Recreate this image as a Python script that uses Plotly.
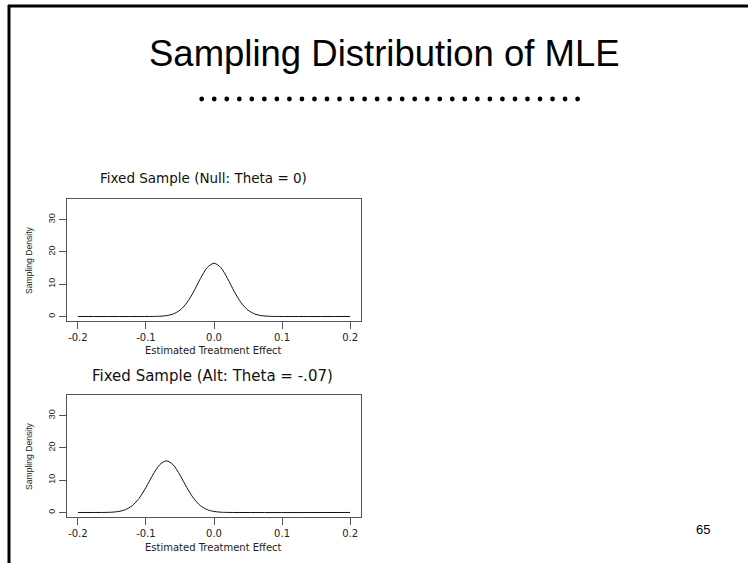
import plotly.graph_objects as go

W, H = 748, 563

# ---- data ----
null_x = [-0.20, -0.09, -0.08, -0.07, -0.06, -0.05, -0.04, -0.03, -0.02, -0.01, 0.00,
          0.01, 0.02, 0.03, 0.04, 0.05, 0.06, 0.07, 0.08, 0.09, 0.20]
null_y = [0.0, 0.01, 0.07, 0.25, 0.76, 1.95, 4.21, 7.65, 11.73, 15.15, 16.5,
          15.15, 11.73, 7.65, 4.21, 1.95, 0.76, 0.25, 0.07, 0.01, 0.0]

alt_x = [-0.20, -0.16, -0.15, -0.14, -0.13, -0.12, -0.11, -0.10, -0.09, -0.08, -0.07,
         -0.06, -0.05, -0.04, -0.03, -0.02, -0.01, 0.00, 0.01, 0.02, 0.20]
alt_y = [0.0, 0.02, 0.09, 0.31, 0.88, 2.13, 4.40, 7.74, 11.59, 14.76, 16.0,
         14.76, 11.59, 7.74, 4.40, 2.13, 0.88, 0.31, 0.09, 0.02, 0.0]

x_ticks = [-0.2, -0.1, 0.0, 0.1, 0.2]
x_tick_labels = ["-0.2", "-0.1", "0.0", "0.1", "0.2"]
y_ticks = [0, 10, 20, 30]
y_tick_labels = ["0", "10", "20", "30"]

page_title = "Sampling Distribution of MLE"
panel_titles = ["Fixed Sample (Null: Theta = 0)", "Fixed Sample (Alt: Theta = -.07)"]
x_title = "Estimated Treatment Effect"
y_title = "Sampling Density"
page_number = "65"


def px(x):
    return x / W


def py(y):
    return 1 - y / H


fig = go.Figure()
fig.add_trace(go.Scatter(x=null_x, y=null_y, mode="lines", xaxis="x", yaxis="y",
                         line=dict(color="#111", width=1, shape="spline", smoothing=0.8),
                         hoverinfo="skip", showlegend=False))
fig.add_trace(go.Scatter(x=alt_x, y=alt_y, mode="lines", xaxis="x2", yaxis="y2",
                         line=dict(color="#111", width=1, shape="spline", smoothing=0.8),
                         hoverinfo="skip", showlegend=False))

axis_common = dict(showline=True, mirror=True, linecolor="#555", linewidth=1,
                   showgrid=False, zeroline=False, ticks="outside", ticklen=7,
                   tickcolor="#555", tickwidth=1)
xax = dict(axis_common, range=[-0.216, 0.216], tickvals=x_ticks, ticktext=x_tick_labels,
           tickfont=dict(family="DejaVu Sans", size=10, color="#222"))
yax = dict(axis_common, range=[-1.4, 36.4], tickvals=y_ticks, ticktext=y_tick_labels,
           tickangle=-90, tickfont=dict(family="Liberation Sans", size=9, color="#222"))

box_l, box_r = 67, 361
top_box = (199, 321)
bot_box = (395, 517)

fig.update_layout(
    width=W, height=H, margin=dict(l=0, r=0, t=0, b=0),
    paper_bgcolor="white", plot_bgcolor="white",
    xaxis=dict(xax, domain=[px(box_l), px(box_r)], anchor="y"),
    yaxis=dict(yax, domain=[py(top_box[1]), py(top_box[0])], anchor="x"),
    xaxis2=dict(xax, domain=[px(box_l), px(box_r)], anchor="y2"),
    yaxis2=dict(yax, domain=[py(bot_box[1]), py(bot_box[0])], anchor="x2"),
    showlegend=False,
)


def note(text, x, y, family, size, color="#111", angle=0):
    return dict(text=text, x=px(x), y=py(y), xref="paper", yref="paper",
                xanchor="center", yanchor="middle", showarrow=False,
                textangle=angle, font=dict(family=family, size=size, color=color))


ann = [note(page_title, 384, 53, "Liberation Sans", 36.5, "black"),
       note(panel_titles[0], 204, 178, "DejaVu Sans", 13.5),
       note(panel_titles[1], 212, 376, "DejaVu Sans", 15),
       note(page_number, 703, 529, "Liberation Sans", 13, "black")]
for yy in (350, 547):
    ann.append(note(x_title, 214, yy, "DejaVu Sans", 10, "#222"))
for yy in (260, 456):
    ann.append(note(y_title, 29, yy, "Liberation Sans", 8.6, "#222", -90))
fig.update_layout(annotations=ann)

shapes = []
# slide frame (top and left edges)
shapes.append(dict(type="line", xref="paper", yref="paper", x0=px(8), x1=px(W),
                   y0=py(6), y1=py(6), line=dict(color="black", width=3)))
shapes.append(dict(type="line", xref="paper", yref="paper", x0=px(9), x1=px(9),
                   y0=py(5), y1=py(H), line=dict(color="black", width=3)))
# decorative dotted rule under the title
n_dots, first, step, r = 31, 201.7, 12.53, 2.4
for i in range(n_dots):
    cx = first + i * step
    shapes.append(dict(type="circle", xref="paper", yref="paper",
                       x0=px(cx - r), x1=px(cx + r), y0=py(99 + r), y1=py(99 - r),
                       fillcolor="black", line=dict(width=0)))
fig.update_layout(shapes=shapes)

fig.write_html("out.html", config={"displayModeBar": False},
               post_script="document.body.style.margin='0';")
